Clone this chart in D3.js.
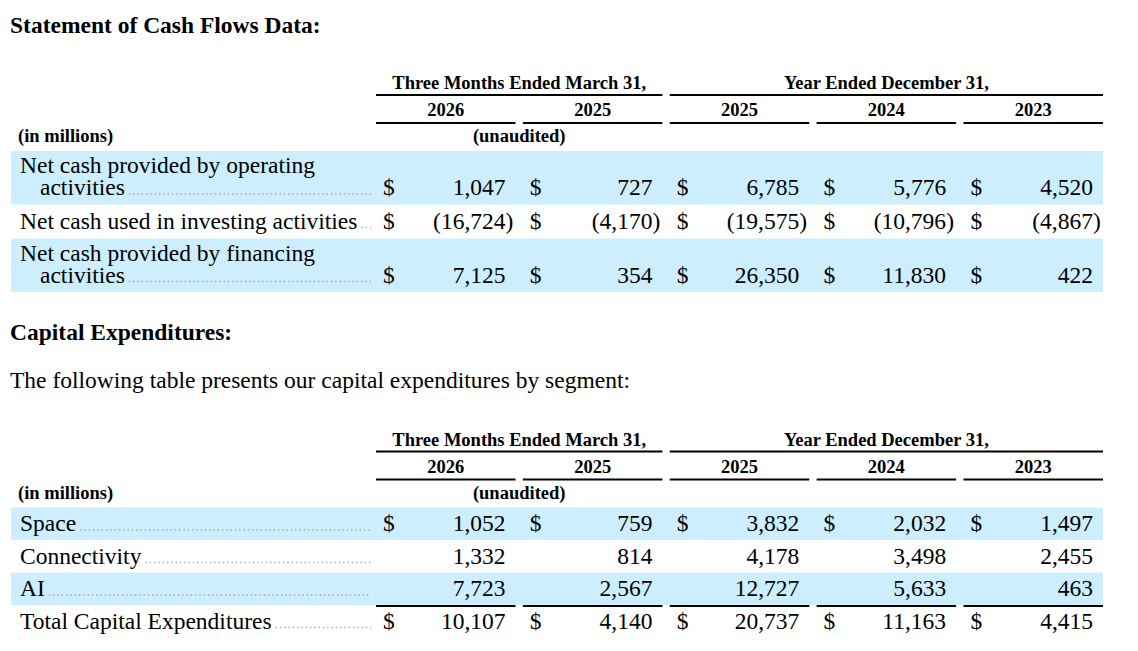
<!DOCTYPE html>
<html>
<head>
<meta charset="utf-8">
<script src="https://cdn.jsdelivr.net/npm/d3@7"></script>
<style>
  body { margin: 0; background: #fff; }
  svg { display: block; font-family: "Liberation Serif", "Times New Roman", serif; }
</style>
</head>
<body>
<svg id="vis-svg"></svg>
<script>
// column headers
const groups = [
    {label: "Three Months Ended March 31,", from: 0, to: 1},
    {label: "Year Ended December 31,", from: 2, to: 4}
];
const periods = ["2026", "2025", "2025", "2024", "2023"];

// Statement of cash flows
const cashLabels = [
    ["Net cash provided by operating", "activities"],
    ["Net cash used in investing activities"],
    ["Net cash provided by financing", "activities"]
];
const cashValues = [
    [1047, 727, 6785, 5776, 4520],
    [-16724, -4170, -19575, -10796, -4867],
    [7125, 354, 26350, 11830, 422]
];
const cashDollar = [true, true, true];

// Capital expenditures by segment
const capexLabels = [["Space"], ["Connectivity"], ["AI"], ["Total Capital Expenditures"]];
const capexValues = [
    [1052, 759, 3832, 2032, 1497],
    [1332, 814, 4178, 3498, 2455],
    [7723, 2567, 12727, 5633, 463],
    [10107, 4140, 20737, 11163, 4415]
];
const capexDollar = [true, false, false, true];

const width = 1138, height = 651;
const band = "#cceeff";
const fmt = d3.format(",");
const bodySize = "23.5px", headSize = "18.5px";

const svg = d3.select("#vis-svg")
    .attr("width", width)
    .attr("height", height);

const x = d3.scaleBand()
    .domain(d3.range(periods.length))
    .range([376, 1103])
    .paddingInner(0.05);

const labelX = 20, leaderEnd = 371, bandLeft = 11;

// top = baseline of the group header row
function table(top, labels, values, dollar, opts) {
    const g = svg.append("g");

    // group headers
    groups.forEach(gr => {
        const x0 = x(gr.from), x1 = x(gr.to) + x.bandwidth();
        g.append("text")
            .attr("x", (x0 + x1) / 2)
            .attr("y", top)
            .attr("text-anchor", "middle")
            .style("font-weight", "bold")
            .style("font-size", headSize)
            .text(gr.label);
        g.append("line")
            .attr("x1", x0).attr("x2", x1)
            .attr("y1", top + 6).attr("y2", top + 6)
            .attr("stroke", "#000").attr("stroke-width", 2);
    });

    // years
    periods.forEach((p, i) => {
        g.append("text")
            .attr("x", x(i) + x.bandwidth() / 2)
            .attr("y", top + 27)
            .attr("text-anchor", "middle")
            .style("font-weight", "bold")
            .style("font-size", headSize)
            .text(p);
        g.append("line")
            .attr("x1", x(i)).attr("x2", x(i) + x.bandwidth())
            .attr("y1", top + 34).attr("y2", top + 34)
            .attr("stroke", "#000").attr("stroke-width", 2);
    });

    g.append("text")
        .attr("x", 18).attr("y", top + 53)
        .style("font-weight", "bold").style("font-size", headSize)
        .text("(in millions)");
    g.append("text")
        .attr("x", (x(0) + x(1) + x.bandwidth()) / 2).attr("y", top + 53)
        .attr("text-anchor", "middle")
        .style("font-weight", "bold").style("font-size", headSize)
        .text("(unaudited)");

    let y = top + 62;
    labels.forEach((lines, r) => {
        const h = lines.length > 1 ? 53.5 : opts.rowH;
        if (r % 2 === 0) {
            g.append("rect")
                .attr("x", bandLeft).attr("y", y)
                .attr("width", x.range()[1] - bandLeft).attr("height", h)
                .attr("fill", band);
        }
        if (opts.totalLine && r === labels.length - 1) {
            periods.forEach((p, i) => {
                g.append("line")
                    .attr("x1", x(i)).attr("x2", x(i) + x.bandwidth())
                    .attr("y1", y + 1).attr("y2", y + 1)
                    .attr("stroke", "#000").attr("stroke-width", 2);
            });
        }
        const lastBase = lines.length > 1 ? y + 44 : y + opts.base;
        const label = g.append("text")
            .style("font-size", bodySize);
        let t;
        lines.forEach((ln, k) => {
            t = label.append("tspan")
                .attr("x", k === 0 ? labelX : labelX + 20)
                .attr("y", lines.length > 1 ? y + 22 + k * 22 : lastBase)
                .text(ln);
        });
        // dotted leader after the last line of the label
        const endX = +t.attr("x") + t.node().getComputedTextLength() + 4;
        if (endX < leaderEnd) {
            g.append("line")
                .attr("x1", endX).attr("x2", leaderEnd)
                .attr("y1", lastBase - 1).attr("y2", lastBase - 1)
                .attr("stroke", "#a8a8a8").attr("stroke-width", 1.4)
                .attr("stroke-dasharray", "1.4,2.9");
        }
        values[r].forEach((v, i) => {
            if (dollar[r]) {
                g.append("text")
                    .attr("x", x(i) + 7).attr("y", lastBase)
                    .style("font-size", bodySize)
                    .text("$");
            }
            const xr = x(i) + x.bandwidth() - 10;
            g.append("text")
                .attr("x", xr).attr("y", lastBase)
                .attr("text-anchor", "end")
                .style("font-size", bodySize)
                .text(v < 0 ? "(" + fmt(-v) : fmt(v));
            if (v < 0) {
                g.append("text")
                    .attr("x", xr).attr("y", lastBase)
                    .style("font-size", bodySize)
                    .text(")");
            }
        });
        y += h;
    });
}

svg.append("text")
    .attr("x", 10).attr("y", 33)
    .style("font-weight", "bold").style("font-size", "23.5px")
    .text("Statement of Cash Flows Data:");

table(89, cashLabels, cashValues, cashDollar, {rowH: 34, base: 24, totalLine: false});

svg.append("text")
    .attr("x", 10).attr("y", 340)
    .style("font-weight", "bold").style("font-size", "23.5px")
    .text("Capital Expenditures:");

svg.append("text")
    .attr("x", 10).attr("y", 388)
    .style("font-size", "23.5px")
    .text("The following table presents our capital expenditures by segment:");

table(445.5, capexLabels, capexValues, capexDollar, {rowH: 32.5, base: 23.5, totalLine: true});
</script>
</body>
</html>
